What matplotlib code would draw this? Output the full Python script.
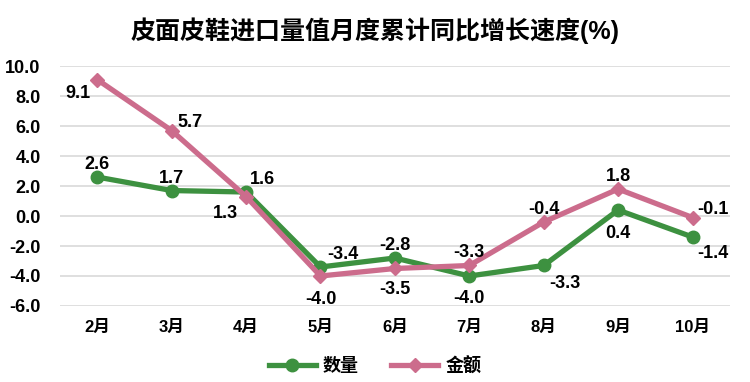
import matplotlib.pyplot as plt

plt.rcParams['font.family'] = ['Liberation Sans', 'Noto Sans CJK SC', 'DejaVu Sans']

months = ['2月', '3月', '4月', '5月', '6月', '7月', '8月', '9月', '10月']
qty = [2.6, 1.7, 1.6, -3.4, -2.8, -4.0, -3.3, 0.4, -1.4]
amount = [9.1, 5.7, 1.3, -4.0, -3.5, -3.3, -0.4, 1.8, -0.1]

green = '#3D9140'
pink = '#CC6C8C'

# label offsets in points (dx, dy)
qty_off = [(0, 9), (0, 9), (12, 9), (16, 9), (0, 9), (0, -16), (15, -13), (0, -17), (15, -12)]
amt_off = [(-14, -10), (13, 6), (-15, -12), (0, -17), (0, -15), (0, 9), (0, 9), (0, 9), (15, 6)]

fig = plt.figure(figsize=(7.5, 3.82), dpi=100)
ax = fig.add_axes([0.08, 0.199, 0.893, 0.628])

x = list(range(len(months)))
ax.plot(x, qty, color=green, lw=3.8, marker='o', ms=9, label='数量', zorder=3)
ax.plot(x, amount, color=pink, lw=3.8, marker='D', ms=7, label='金额', zorder=3)

for i in x:
    ax.annotate(f'{qty[i]:.1f}', (i, qty[i]), xytext=qty_off[i], textcoords='offset points',
                ha='center', va='center', fontsize=13, fontweight='bold')
    ax.annotate(f'{amount[i]:.1f}', (i, amount[i]), xytext=amt_off[i], textcoords='offset points',
                ha='center', va='center', fontsize=13, fontweight='bold')

ax.set_xlim(-0.5, len(months) - 0.5)
ax.set_ylim(-6, 10)
ax.set_yticks(range(-6, 11, 2))
ax.set_yticklabels([f'{v:.1f}' for v in range(-6, 11, 2)], fontsize=13, fontweight='bold')
ax.set_xticks(x)
ax.set_xticklabels(months, fontsize=12, fontweight='bold')
ax.tick_params(length=0, pad=10)
ax.tick_params(axis='y', pad=14)
ax.grid(axis='y', color='#D9D9D9', lw=1.2)
ax.set_axisbelow(True)
for s in ax.spines.values():
    s.set_visible(False)

fig.suptitle('皮面皮鞋进口量值月度累计同比增长速度(%)', fontsize=18, fontweight='bold', y=0.955)
leg = fig.legend(loc='lower center', ncol=2, frameon=False, bbox_to_anchor=(0.5, -0.025),
                 prop={'size': 13, 'weight': 'bold'}, handlelength=2.6, handletextpad=0.4,
                 columnspacing=1.8)

fig.savefig('out.png', dpi=100)
